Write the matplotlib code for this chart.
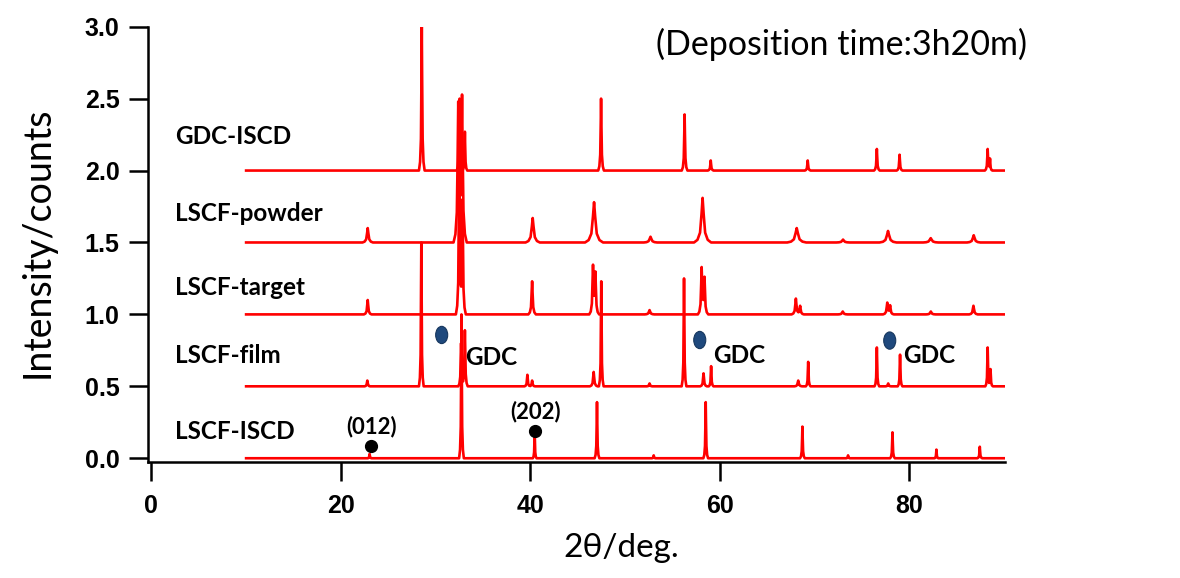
import numpy as np
import matplotlib
matplotlib.use("Agg")
import matplotlib.pyplot as plt
from matplotlib.patches import Ellipse

# peak tables: position (deg), height, half base width (deg)
gdc_iscd_pos = [28.55, 32.55, 33.1, 47.48, 56.3, 59.06, 69.3, 76.6, 79.0, 88.3, 88.55]
gdc_iscd_h   = [1.0, 0.5, 0.27, 0.5, 0.39, 0.07, 0.07, 0.15, 0.11, 0.15, 0.08]
gdc_iscd_w   = [0.3, 0.3, 0.25, 0.3, 0.3, 0.3, 0.3, 0.3, 0.3, 0.3, 0.25]

powder_pos = [22.84, 32.4, 32.8, 40.26, 46.74, 52.7, 58.2, 68.14, 73.03, 77.78, 82.29, 86.83]
powder_h   = [0.1, 0.95, 1.0, 0.17, 0.28, 0.04, 0.31, 0.1, 0.02, 0.08, 0.03, 0.05]
powder_w   = [0.55, 0.5, 0.5, 0.75, 0.95, 0.7, 0.9, 1.0, 0.7, 0.9, 0.8, 0.7]

target_pos = [22.84, 32.5, 32.85, 40.2, 46.63, 46.88, 52.6, 58.1, 58.4, 68.05, 68.5, 73.0, 77.7, 78.0, 82.3, 86.8]
target_h   = [0.1, 1.0, 0.8, 0.23, 0.33, 0.28, 0.03, 0.32, 0.25, 0.11, 0.06, 0.02, 0.08, 0.06, 0.02, 0.06]
target_w   = [0.4, 0.35, 0.35, 0.4, 0.4, 0.4, 0.5, 0.4, 0.4, 0.45, 0.4, 0.5, 0.45, 0.4, 0.5, 0.45]

film_pos = [22.8, 28.5, 32.7, 33.1, 39.7, 40.2, 46.7, 47.5, 52.6, 56.24, 58.3, 59.1, 68.3, 69.35,
            76.6, 77.8, 79.05, 88.3, 88.6]
film_h   = [0.04, 1.0, 0.3, 0.39, 0.08, 0.04, 0.1, 0.73, 0.02, 0.75, 0.09, 0.14, 0.04, 0.17,
            0.27, 0.02, 0.22, 0.27, 0.12]
film_w   = [0.3, 0.25, 0.3, 0.3, 0.3, 0.3, 0.4, 0.25, 0.3, 0.25, 0.35, 0.25, 0.4, 0.25,
            0.25, 0.3, 0.25, 0.25, 0.25]

iscd_pos = [23.04, 32.74, 40.47, 47.05, 53.04, 58.53, 68.74, 73.56, 78.25, 82.89, 87.47]
iscd_h   = [0.03, 1.0, 0.19, 0.39, 0.02, 0.39, 0.22, 0.02, 0.18, 0.06, 0.08]
iscd_w   = [0.2, 0.25, 0.2, 0.25, 0.2, 0.25, 0.25, 0.2, 0.25, 0.2, 0.25]

names = ["GDC-ISCD", "LSCF-powder", "LSCF-target", "LSCF-film", "LSCF-ISCD"]
offsets = [2.0, 1.5, 1.0, 0.5, 0.0]
label_y = [2.185, 1.652, 1.135, 0.66, 0.135]

gdc_mark_x = [30.65, 57.9, 77.96]
gdc_mark_y = [0.857, 0.822, 0.818]
gdc_text_x = [33.08, 59.3, 79.37]
gdc_text_y = [0.648, 0.66, 0.66]

hkl_labels = ["(012)", "(202)"]
hkl_x = [23.2, 40.55]
hkl_y = [0.088, 0.192]

X_START, X_END = 10.0, 90.0

# peak shape template (fractions of half width / height)
SHAPE_DX = np.array([-1.0, -0.6, -0.3, -0.12, 0.0, 0.12, 0.3, 0.6, 1.0])
SHAPE_DY = np.array([0.0, 0.06, 0.22, 0.65, 1.0, 0.65, 0.22, 0.06, 0.0])


def trace(pos, h, w, base):
    xs = [X_START, X_END]
    for p, ww in zip(pos, w):
        xs.extend(p + SHAPE_DX * ww)
    xs = np.unique(np.array(xs))
    ys = np.full_like(xs, base)
    for p, hh, ww in zip(pos, h, w):
        ys += hh * np.interp(xs, p + SHAPE_DX * ww, SHAPE_DY, left=0, right=0)
    return xs, ys


tables = [
    (gdc_iscd_pos, gdc_iscd_h, gdc_iscd_w),
    (powder_pos, powder_h, powder_w),
    (target_pos, target_h, target_w),
    (film_pos, film_h, film_w),
    (iscd_pos, iscd_h, iscd_w),
]

fig = plt.figure(figsize=(11.8, 5.78), dpi=100)
ax = fig.add_axes([148 / 1180, 1 - 461.7 / 578, 856.7 / 1180, 435 / 578])

for (pos, h, w), base in zip(tables, offsets):
    x, y = trace(pos, h, w, base)
    ax.plot(x, y, color="#FF0000", lw=1.9)

ax.set_xlim(-0.36, 90.1)
ax.set_ylim(-0.024, 3.0)
ax.set_xticks([0, 20, 40, 60, 80])
ax.set_yticks([0.0, 0.5, 1.0, 1.5, 2.0, 2.5, 3.0])
ax.set_yticklabels([f"{v:.1f}" for v in ax.get_yticks()])
for s in ["top", "right"]:
    ax.spines[s].set_visible(False)
for s in ["left", "bottom"]:
    ax.spines[s].set_linewidth(1.8)
ax.tick_params(axis="both", length=13.5, width=1.8, direction="out")
ax.tick_params(axis="x", pad=10)
ax.tick_params(axis="y", pad=7)
for lab in ax.get_xticklabels() + ax.get_yticklabels():
    lab.set_fontfamily("Liberation Sans")
    lab.set_fontweight("bold")
    lab.set_fontsize(18)

lbl_font = dict(family="Lato", fontweight="bold", fontsize=17.5)
for name, yy in zip(names, label_y):
    ax.text(2.46, yy, name, ha="left", va="baseline", **lbl_font)

# GDC markers
for mx, my in zip(gdc_mark_x, gdc_mark_y):
    ax.add_patch(Ellipse((mx, my), 1.27, 0.12, facecolor="#1F497D",
                         edgecolor="#17375E", lw=0.8, zorder=5))
for tx, ty in zip(gdc_text_x, gdc_text_y):
    ax.text(tx, ty, "GDC", ha="left", va="baseline", **lbl_font)

# LSCF reflections
ax.plot(hkl_x, hkl_y, "o", color="black", ms=8.5, zorder=5, linestyle="none")
for lab, hx, hy in zip(hkl_labels, hkl_x, hkl_y):
    ax.text(hx, hy + 0.088, lab, ha="center", va="baseline",
            family="Lato", fontweight="bold", fontsize=16)

ax.text(53.3, 2.803, "(Deposition time:3h20m)", ha="left", va="baseline",
        family="Lato", fontsize=24.5)

fig.text(38 / 1180, 1 - 242 / 578, "Intensity/counts", rotation=90,
         ha="center", va="center", family="Lato", fontsize=27)
fig.text(621 / 1180, 1 - 548 / 578, "2θ/deg.", ha="center", va="center",
         family="Lato", fontsize=24)

fig.savefig("out.png", dpi=100)
